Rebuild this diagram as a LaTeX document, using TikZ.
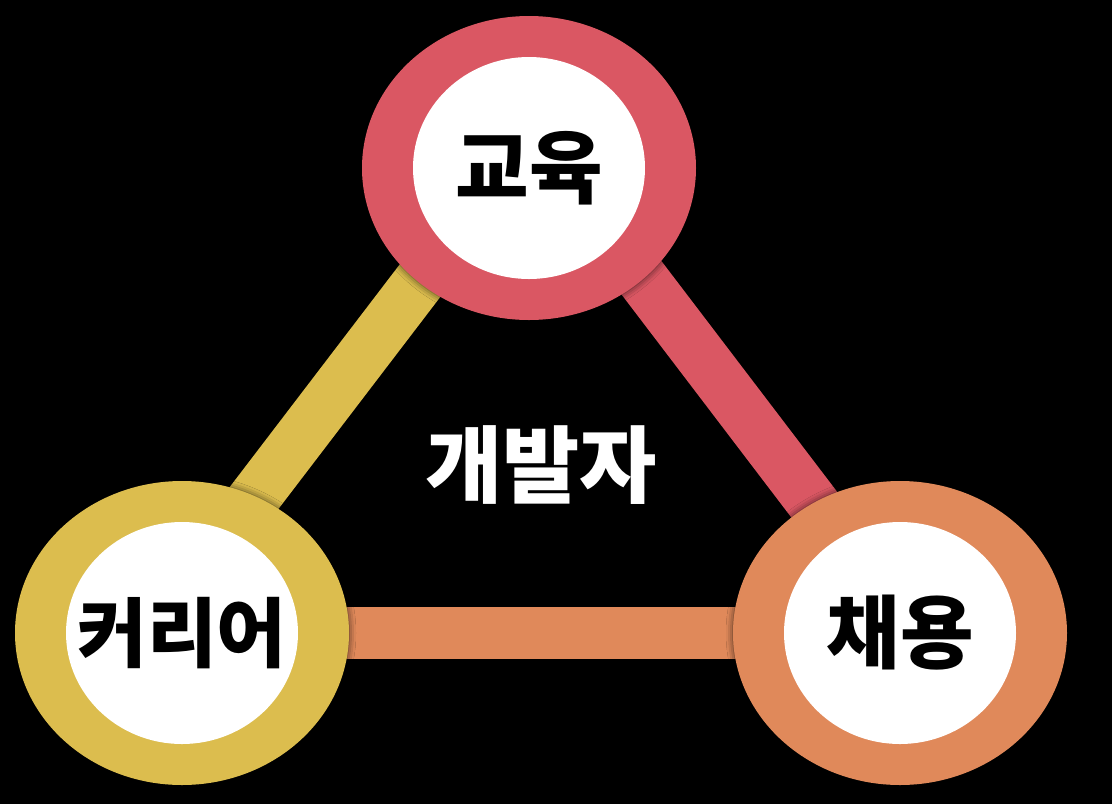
\documentclass[tikz,border=0pt]{standalone}
\usepackage{fontspec}
\newfontfamily\krfont{Noto Sans CJK KR}
\usetikzlibrary{shapes.geometric, shadows.blur}
\definecolor{edured}{HTML}{DA5763}
\definecolor{careeryellow}{HTML}{DCBD4E}
\definecolor{joborange}{HTML}{E0895A}
\tikzstyle{ring}=[ellipse, minimum width=334pt, minimum height=304pt, inner sep=0pt,
    blur shadow={shadow xshift=0pt, shadow yshift=0pt, shadow blur radius=7pt, shadow opacity=70}]
\tikzstyle{hole}=[ellipse, fill=white, minimum width=232pt, minimum height=222pt, inner sep=0pt]
\tikzstyle{ringtext}=[inner sep=0pt, font=\krfont\bfseries\fontsize{80}{80}\selectfont]
\tikzstyle{bar}=[line width=52pt]

\begin{document}
\begin{tikzpicture}[x=1pt, y=-1pt]
% Background
    \fill[black] (0,0) rectangle (1112,804);
    \useasboundingbox (0,0) rectangle (1112,804);
% Corners of the triangle
    \coordinate (top) at (532,134);
    \coordinate (left) at (151,633);
    \coordinate (right) at (912,633);
% Bars
    \draw[bar, careeryellow] (top) -- (left);
    \draw[bar, edured] (top) -- (right);
    \draw[bar, joborange] (left) -- (right);
% Rings
    \node[ring, fill=edured] (eduring) at (529,168) {};
    \node[ring, fill=careeryellow] (careerring) at (182,633) {};
    \node[ring, fill=joborange] (jobring) at (900,633) {};
    \node[hole] (eduhole) at (eduring) {};
    \node[hole] (careerhole) at (careerring) {};
    \node[hole] (jobhole) at (jobring) {};
% Labels
    \node[ringtext] (edu) at (eduhole) {교육};
    \node[ringtext, font=\krfont\bfseries\fontsize{76}{76}\selectfont] (career) at (careerhole) {커리어};
    \node[ringtext] (job) at (jobhole) {채용};
    \node[ringtext, white, font=\krfont\bfseries\fontsize{84}{84}\selectfont] (dev) at (541,465) {개발자};
\end{tikzpicture}
\end{document}
